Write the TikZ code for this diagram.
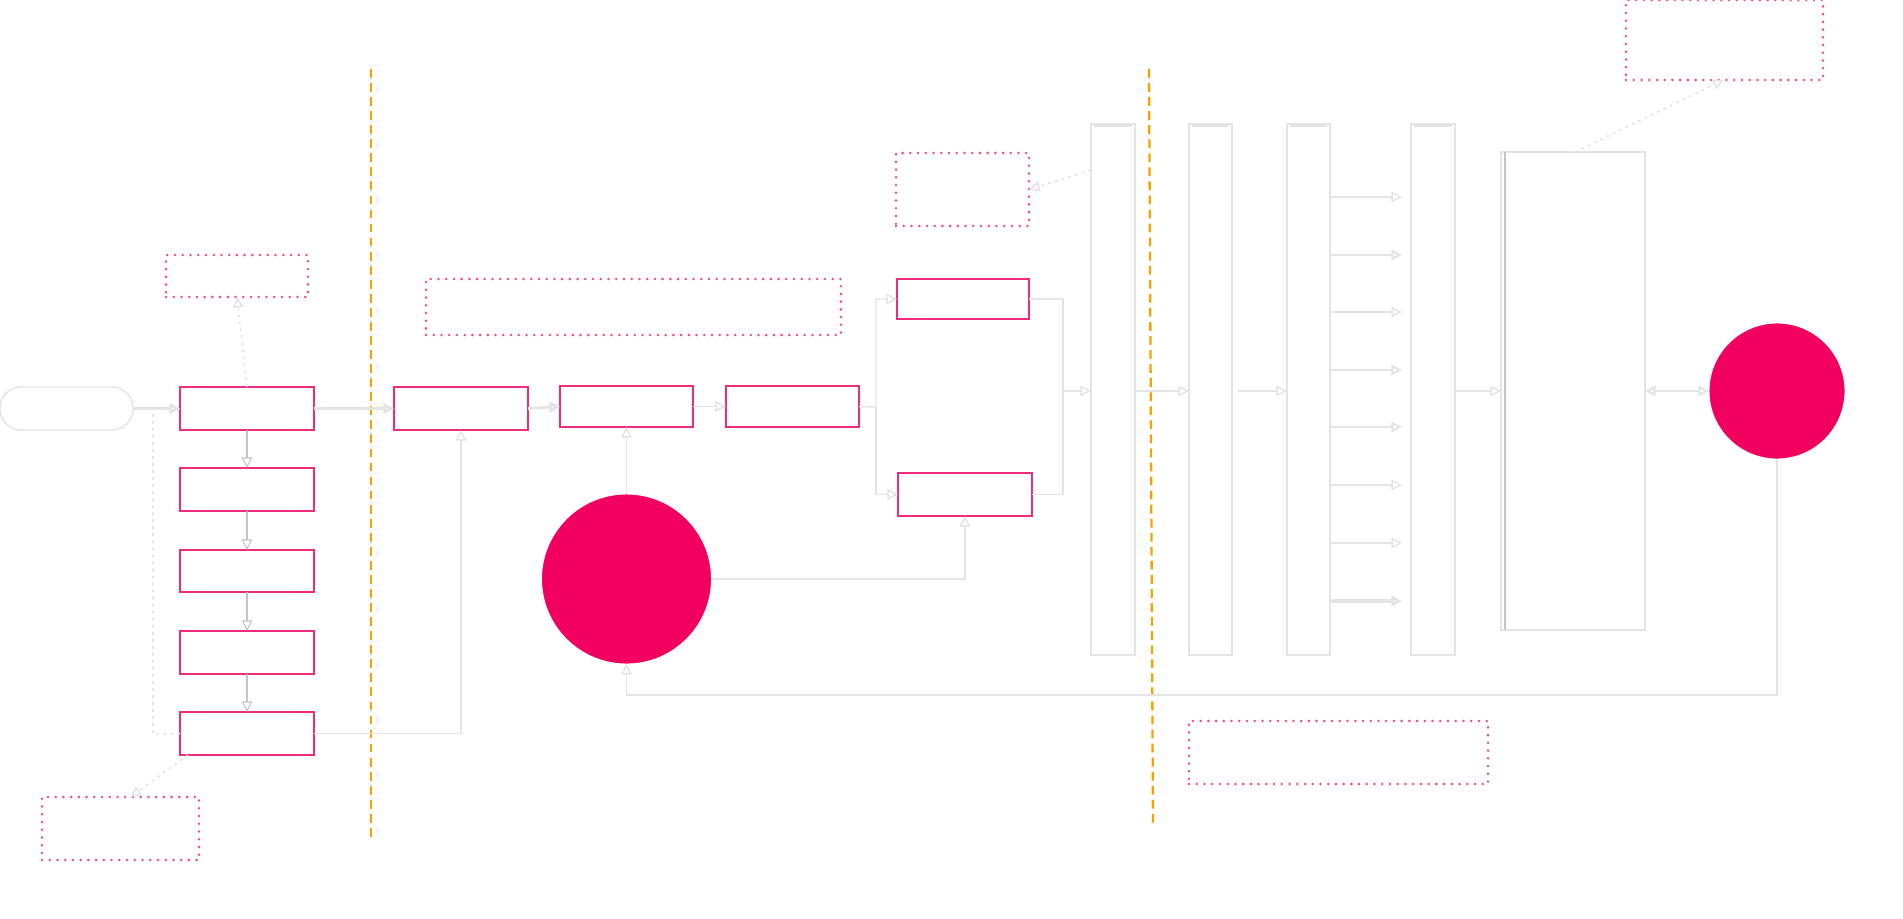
\documentclass[tikz,border=0pt]{standalone}
\usetikzlibrary{arrows.meta,fit}
\definecolor{boxpink}{HTML}{EE2C7C}
\definecolor{notepink}{HTML}{F04A88}
\definecolor{circ}{HTML}{F20060}
\definecolor{orng}{HTML}{F5A300}
\definecolor{lg}{HTML}{E4E4E4}
\definecolor{mg}{HTML}{C4C4C4}
\tikzset{
  pbox/.style={draw=boxpink, line width=1.3pt, rectangle, inner sep=0pt, outer sep=0pt},
  note/.style={draw=notepink, line width=1.6pt, dash pattern=on 0pt off 4.4pt, line cap=round, rectangle, inner sep=0pt, outer sep=0pt},
  bar/.style={draw=lg, line width=0.8pt, rectangle, inner sep=0pt, outer sep=0pt},
  pill/.style={draw=lg, line width=0.8pt, rectangle, rounded corners=0.42cm, inner sep=0pt, outer sep=0pt},
  blob/.style={circle, fill=circ, draw=white, line width=0.5pt, inner sep=0pt, outer sep=0pt},
  tip/.style={-{Triangle[open, length=6pt, width=6pt]}},
  conn/.style={draw=lg, line width=0.8pt, tip},
  thickconn/.style={draw=lg, line width=1.6pt, tip},
  darkconn/.style={draw=mg, line width=0.6pt, tip},
  dotconn/.style={draw=lg, line width=0.9pt, dash pattern=on 1.5pt off 2.5pt, tip},
  divider/.style={draw=orng, line width=1.3pt, dash pattern=on 5pt off 3pt}
}
\begin{document}
\begin{tikzpicture}[x=0.02cm,y=-0.02cm]
\useasboundingbox (0,0) rectangle (1903,919);
\fill[white] (0,0) rectangle (1903,919);

% dividers
\coordinate (d1t) at (371,69);  \coordinate (d1b) at (371,841);
\coordinate (d2t) at (1149,69); \coordinate (d2b) at (1153,827);
\draw[divider] (d1t) -- (d1b);
\draw[divider] (d2t) -- (d2b);

% left column
\node[pill, fit={(0,387) (133,430)}] (pill) {};
\node[pbox, fit={(180,387) (314,430)}] (b1) {};
\node[pbox, fit={(180,468) (314,511)}] (b2) {};
\node[pbox, fit={(180,550) (314,592)}] (b3) {};
\node[pbox, fit={(180,631) (314,674)}] (b4) {};
\node[pbox, fit={(180,712) (314,755)}] (b5) {};
\node[note, fit={(166,255) (308,297)}] (aTL) {};
\node[note, fit={(42,797) (199,860)}] (aBL) {};

% middle row
\node[pbox, fit={(394,387) (528,430)}] (bA) {};
\node[pbox, fit={(560,386) (693,427)}] (bB) {};
\node[pbox, fit={(726,386) (859,427)}] (bC) {};
\node[note, fit={(426,279) (841,335)}] (aW) {};
\node[blob, minimum size=3.4cm] (c1) at (626.5,579) {};
\node[pbox, fit={(897,279) (1029,319)}] (bD) {};
\node[pbox, fit={(898,473) (1032,516)}] (bE) {};
\node[note, fit={(896,153) (1029,226)}] (aD) {};

% bars
\node[bar, fit={(1091,124) (1135,655)}] (bar1) {};
\node[bar, fit={(1189,124) (1232,655)}] (bar2) {};
\node[bar, fit={(1287,124) (1330,655)}] (bar3) {};
\node[bar, fit={(1411,124) (1455,655)}] (bar4) {};
\foreach \b in {bar1,bar2,bar3,bar4}
  \draw[lg, line width=2pt] ([xshift=0.06cm,yshift=-0.03cm]\b.north west) -- ([xshift=-0.06cm,yshift=-0.03cm]\b.north east);
\node[bar, fit={(1501,152) (1645,630)}] (panel) {};
\draw[mg, line width=0.6pt] ([xshift=0.08cm]panel.north west) -- ([xshift=0.08cm]panel.south west);
\node[blob, minimum size=2.72cm] (c2) at (1777,391) {};
\node[note, fit={(1626,0) (1823,80)}] (aTR) {};
\node[note, fit={(1189,721) (1488,784)}] (aB) {};

% left connectors
\draw[thickconn] (pill.east) -- (b1.west);
\coordinate (loop) at (153,734);
\draw[dotconn] (b5.west) -- (loop) |- (b1.west);
\draw[darkconn] (b1) -- (b2);
\draw[darkconn] (b2) -- (b3);
\draw[darkconn] (b3) -- (b4);
\draw[darkconn] (b4) -- (b5);
\draw[dotconn] (b1.north) -- (aTL.south);
\draw[dotconn] ([xshift=0.16cm]b5.south west) -- ([xshift=0.2cm]aBL.north);

% middle connectors
\draw[thickconn] (b1.east) -- (bA.west);
\draw[thickconn] (bA.east) -- (bB.west);
\draw[conn] (bB.east) -- (bC.west);
\draw[conn] (b5.east) -| (bA.south);
\draw[conn] (c1.north) -- (bB.south);
\draw[conn] (c1.east) -| (bE.south);
\coordinate (j1) at (876,407);
\draw[conn] (bC.east) -- (j1) |- (bD.west);
\draw[conn] (j1) |- (bE.west);
\coordinate (j2) at (1063,391);
\draw[lg, line width=0.8pt] (bD.east) -| (j2);
\draw[lg, line width=0.8pt] (bE.east) -| (j2);
\draw[conn] (j2) -- (j2 -| bar1.west);
\draw[dotconn] ([yshift=-0.92cm]bar1.north west) -- (aD.east);

% right connectors
\coordinate (r0) at (1113,391);
\draw[conn] (bar1.east |- r0) -- (bar2.west |- r0);
\coordinate (r1) at (1238,391);
\draw[conn] (r1) -- (bar3.west |- r0);
\foreach \y/\w in {197/0.8pt,255/1.2pt,312/0.8pt,370/1.2pt,427/1.2pt,485/0.8pt,543/0.8pt,601/2pt}{
  \coordinate (s\y) at (1330,\y);
  \coordinate (t\y) at (1402,\y);
  \draw[conn, line width=\w] (s\y) -- (t\y);
}
\draw[conn] (bar4.east |- r0) -- (panel.west |- r0);
\draw[draw=lg, line width=1.2pt, {Triangle[open, length=6pt, width=6pt]}-{Triangle[open, length=6pt, width=6pt]}] (panel.east |- c2) -- (c2.west);
\draw[dotconn] ([xshift=0.04cm]panel.north) -- ([xshift=-0.02cm]aTR.south);
\coordinate (bl) at (1000,695);
\draw[conn] (c2.south) |- (bl) -| (c1.south);
\end{tikzpicture}
\end{document}
